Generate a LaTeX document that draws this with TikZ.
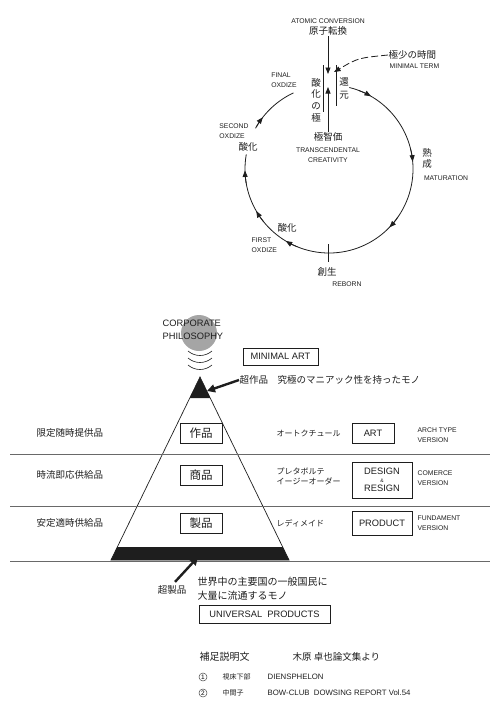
\documentclass[tikz,border=0pt]{standalone}
\usepackage{fontspec}
\setmainfont{Liberation Sans}
\newfontfamily\jpfont{Noto Sans CJK JP}
\definecolor{inkgray}{RGB}{30,30,30}
\definecolor{rulegray}{RGB}{105,105,105}
\definecolor{philogray}{RGB}{165,165,165}
\usetikzlibrary{
    arrows.meta,
    positioning,
    calc
}

\begin{document}
\begin{tikzpicture}[x=1pt,y=-1pt,
    lat/.style={font=\fontsize{6.8}{10}\selectfont,align=center,inner sep=0.5pt,text=inkgray},
    midlat/.style={font=\fontsize{9.3}{11}\selectfont,align=center,inner sep=0.5pt,text=inkgray},
    jp/.style={font=\jpfont\fontsize{9.5}{12}\selectfont,align=center,inner sep=0.5pt,text=inkgray},
    smalljp/.style={font=\jpfont\fontsize{8}{10}\selectfont,align=left,inner sep=0.5pt,text=inkgray},
    bigjp/.style={font=\jpfont\fontsize{11.5}{12}\selectfont,inner sep=0.5pt,text=inkgray},
    ring/.style={draw=inkgray,line width=0.8pt},
    tipA/.style={-{Triangle[length=6.5pt,width=5pt]}},
    fatarrow/.style={draw=inkgray,line width=2.4pt,-{Triangle[length=8pt,width=8pt]}},
    framebox/.style={draw=inkgray,line width=0.9pt,fill=white,inner sep=0pt},
    rowline/.style={draw=rulegray,line width=1pt},
    numcircle/.style={circle,draw=inkgray!80,line width=0.5pt,inner sep=0.8pt,font=\fontsize{6.5}{7}\selectfont}
]
\useasboundingbox (0,0) rectangle (500,715);

% circulation ring
\coordinate (c) at (329,169);
\draw[ring] (c) ++(-76:84) arc[start angle=-76,end angle=190,radius=84];
\draw[ring] (c) ++(210:84) arc[start angle=210,end angle=245,radius=84];
\foreach \a in {-60,-5,44,121,150,179,218} {
    \draw[ring,tipA] (c) ++(\a-9:84) arc[start angle=\a-9,end angle=\a,radius=84];
}

% atomic conversion at the top
\node[lat] (atomic) at (328,21) {ATOMIC CONVERSION};
\node[jp] (genshi) at (328,31) {原子転換};
\coordinate (downtip) at (328,74);
\draw[ring,tipA] (genshi.south) -- (downtip);
\draw[ring] (323,65) -- (323,112);
\draw[ring] (336,65) -- (336,106);
\node[jp,font=\jpfont\fontsize{9.5}{11.7}\selectfont] (sanka) at (316,100) {酸\\化\\の\\極};
\node[jp,font=\jpfont\fontsize{9.5}{13}\selectfont] (kangen) at (344,88) {還\\元};
\node[jp] (chiteki) at (328,137) {極智価};
\coordinate (uptip) at (328,87);
\draw[ring,tipA] (chiteki.north) -- (uptip);
\node[lat] (trans) at (328,155) {TRANSCENDENTAL\\CREATIVITY};

% minimal term
\node[jp,anchor=west] (kyokusho) at (388,55) {極少の時間};
\node[lat,anchor=west] (minterm) at (389,66) {MINIMAL TERM};
\coordinate (dashtip) at (334,72);
\draw[ring,dash pattern=on 7pt off 3pt,tipA] (kyokusho.west) .. controls (358,58) .. (dashtip);

% labels round the ring
\node[lat,align=left] (final) at (284,80) {FINAL\\OXDIZE};
\node[lat,align=left] (second) at (234,131) {SECOND\\OXDIZE};
\node[jp] (sanka2) at (248,147) {酸化};
\node[jp] (sanka1) at (287,228) {酸化};
\node[lat,align=left,anchor=west] (first) at (251,245) {FIRST\\OXDIZE};
\node[jp,font=\jpfont\fontsize{9.5}{11}\selectfont] (jukusei) at (427,158) {熟\\成};
\node[lat] (matur) at (446,178) {MATURATION};
\draw[ring] (328,244) -- (328,262);
\node[jp] (sousei) at (327,272) {創生};
\node[lat] (reborn) at (347,284) {REBORN};

% corporate philosophy
\fill[philogray] (199,333) circle[radius=18];
\node[midlat,align=left,anchor=west,font=\fontsize{9.3}{13}\selectfont] (philo) at (162,330) {CORPORATE\\PHILOSOPHY};
\foreach \y in {351,358,365} {
    \draw[draw=inkgray,line width=0.6pt] (188,\y) .. controls (195,\y+6) and (205,\y+6) .. (212,\y);
}

% pyramid
\draw[draw=inkgray,line width=0.7pt] (200,377) -- (111,560) -- (289,560) -- cycle;
\fill[inkgray] (200,377) -- (189.8,398) -- (210.2,398) -- cycle;
\fill[inkgray] (117.3,547) -- (282.7,547) -- (289,560) -- (111,560) -- cycle;

% row rules
\foreach \y in {454,506,561} {
    \draw[rowline] (10,\y) -- (490,\y);
}

% minimal art
\node[framebox,midlat,minimum width=75pt,minimum height=17pt] (minart) at (280.5,356.5) {MINIMAL ART};
\node[jp,anchor=west] (chosaku) at (239,380) {超作品　究極のマニアック性を持ったモノ};
\coordinate (toptip) at (207,391);
\draw[fatarrow] (chosaku.west) -- (toptip);

% rows
\node[jp,anchor=west] (gentei) at (36,433) {限定随時提供品};
\node[jp,anchor=west] (jiryu) at (36,475) {時流即応供給品};
\node[jp,anchor=west] (antei) at (36,523) {安定適時供給品};

\node[framebox,bigjp,minimum width=42pt,minimum height=20pt] (sakuhin) at (201,433) {作品};
\node[framebox,bigjp,minimum width=42pt,minimum height=20pt] (shohin) at (201,475) {商品};
\node[framebox,bigjp,minimum width=42pt,minimum height=20pt] (seihin) at (201,523) {製品};

\node[smalljp,anchor=west] (haute) at (276,433) {オートクチュール};
\node[smalljp,anchor=west] (pret) at (276,476) {プレタボルテ\\イージーオーダー};
\node[smalljp,anchor=west] (ready) at (276,523) {レディメイド};

\node[framebox,midlat,minimum width=42pt,minimum height=20pt] (art) at (373,433) {ART};
\node[framebox,midlat,minimum width=60pt,minimum height=36pt] (design) at (382,480) {DESIGN\\[-3pt]{\fontsize{5}{5}\selectfont\&}\\[-2pt]RESIGN};
\node[framebox,midlat,minimum width=60pt,minimum height=24pt] (product) at (382,523) {PRODUCT};

\node[lat,align=left,anchor=west] (arch) at (417,435) {ARCH TYPE\\VERSION};
\node[lat,align=left,anchor=west] (comerce) at (417,478) {COMERCE\\VERSION};
\node[lat,align=left,anchor=west] (fundament) at (417,523) {FUNDAMENT\\VERSION};

% universal products
\node[jp] (choseihin) at (172,590) {超製品};
\coordinate (bottip) at (198,557);
\draw[fatarrow] (choseihin.north) ++(3,-3) -- (bottip);
\node[jp,align=left,anchor=west,font=\jpfont\fontsize{10}{14}\selectfont] (sekai) at (197,589) {世界中の主要国の一般国民に\\大量に流通するモノ};
\node[framebox,midlat,minimum width=131pt,minimum height=18pt] (universal) at (264.5,614) {UNIVERSAL~~PRODUCTS};

% notes
\node[jp,anchor=west,font=\jpfont\fontsize{10}{12}\selectfont] (hosoku) at (199,657) {補足説明文};
\node[jp,anchor=west] (kihara) at (292,657) {木原 卓也論文集より};
\node[numcircle] (one) at (203,677) {1};
\node[smalljp,anchor=west,font=\jpfont\fontsize{7}{8}\selectfont] (shisho) at (222,677) {視床下部};
\node[lat,anchor=west,font=\fontsize{7.8}{9}\selectfont] (dien) at (267,677) {DIENSPHELON};
\node[numcircle] (two) at (203,693) {2};
\node[smalljp,anchor=west,font=\jpfont\fontsize{7}{8}\selectfont] (chukan) at (222,693) {中間子};
\node[lat,anchor=west,font=\fontsize{7.8}{9}\selectfont] (bow) at (267,693) {BOW-CLUB~~DOWSING REPORT Vol.54};
\end{tikzpicture}
\end{document}
